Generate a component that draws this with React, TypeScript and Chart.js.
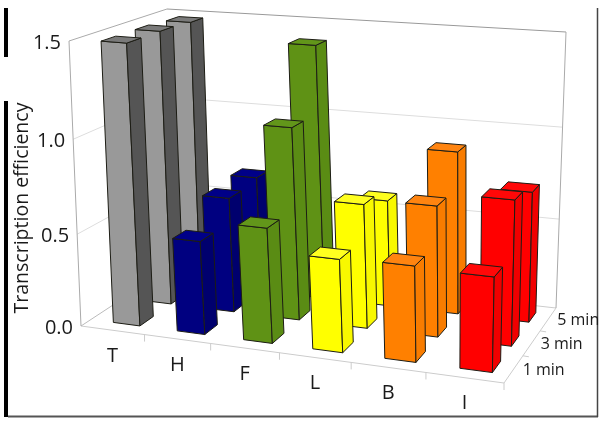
import React, { useEffect, useRef } from "react";
import { Chart, BarController, registerables } from "chart.js";

const categories = ["T", "H", "F", "L", "B", "I"];
const depthLabels = ["1 min", "3 min", "5 min"];
const valueAxisTitle = "Transcription efficiency";
const oneMin = [1.49, 0.5, 0.61, 0.49, 0.5, 0.49];
const threeMin = [1.49, 0.63, 1.04, 0.67, 0.7, 0.77];
const fiveMin = [1.48, 0.65, 1.4, 0.59, 0.89, 0.71];
const frontColors = ["#999999", "#000080", "#5f9215", "#ffff00", "#ff8000", "#ff0000"];
const sideColors = ["#555555", "#00006e", "#5a8c14", "#f8f800", "#f87c00", "#f00000"];
const topColors = ["#7a7a7a", "#000088", "#62961a", "#ffff20", "#ff8410", "#ff0808"];

type P = [number, number];
// Perspective frame of the 3D box: floor and top planes, corners
// in the order front-left, front-right, back-right, back-left.
const floorQuad: P[] = [[81, 326], [504, 383], [556, 308], [174, 265]];
const topQuad: P[] = [[69, 41], [512, 76], [566, 32], [167, 9]];

function squareToQuad(q: P[]) {
  const [[x0, y0], [x1, y1], [x2, y2], [x3, y3]] = q;
  const dx1 = x1 - x2, dx2 = x3 - x2, dx3 = x0 - x1 + x2 - x3;
  const dy1 = y1 - y2, dy2 = y3 - y2, dy3 = y0 - y1 + y2 - y3;
  const den = dx1 * dy2 - dx2 * dy1;
  const g = (dx3 * dy2 - dx2 * dy3) / den;
  const h = (dx1 * dy3 - dx3 * dy1) / den;
  const a = x1 - x0 + g * x1, b = x3 - x0 + h * x3;
  const d = y1 - y0 + g * y1, e = y3 - y0 + h * y3;
  return (s: number, t: number): P => {
    const w = g * s + h * t + 1;
    return [(a * s + b * t + x0) / w, (d * s + e * t + y0) / w];
  };
}
const floorMap = squareToQuad(floorQuad);
const topMap = squareToQuad(topQuad);

// u in category units, v in depth units, f = fraction of the value axis
function project(u: number, v: number, f: number): P {
  const s = u / categories.length, t = v / depthLabels.length;
  const a = floorMap(s, t), b = topMap(s, t);
  const k = 0.95;
  const m = (f * k) / (1 + f * (k - 1));
  return [a[0] + (b[0] - a[0]) * m, a[1] + (b[1] - a[1]) * m];
}

const BAR_U = 0.21, BAR_V = 0.21, SHIFT_U = 0.07, SHIFT_V = 0.0;

const frac = (ys: any, value: number) => (ys.bottom - ys.getPixelForValue(value)) / (ys.bottom - ys.top);

function poly(ctx: CanvasRenderingContext2D, pts: P[], fill: string) {
  ctx.beginPath();
  pts.forEach((p, i) => (i ? ctx.lineTo(p[0], p[1]) : ctx.moveTo(p[0], p[1])));
  ctx.closePath();
  ctx.fillStyle = fill;
  ctx.fill();
  ctx.stroke();
}

class Bar3DController extends BarController {
  static id = "bar3d";
  static defaults = BarController.defaults;
  static overrides = BarController.overrides;
  draw() {
    const chart = this.chart as any;
    const ctx: CanvasRenderingContext2D = chart.ctx;
    const xs = chart.scales.x, ys = chart.scales.y;
    const n = this.getMeta().data.length;
    const v0 = this.index + 0.5 + SHIFT_V;
    ctx.save();
    ctx.lineWidth = 1;
    ctx.lineJoin = "round";
    ctx.strokeStyle = "#1c1c14";
    for (let i = 0; i < n; i++) {
      const parsed: any = this.getParsed(i);
      const u0 = ((xs.getPixelForValue(i) - xs.left) / xs.width) * categories.length + SHIFT_U;
      const f = frac(ys, parsed.y);
      const uL = u0 - BAR_U, uR = u0 + BAR_U, vF = v0 - BAR_V, vB = v0 + BAR_V;
      poly(ctx, [project(uL, vF, 0), project(uR, vF, 0), project(uR, vF, f), project(uL, vF, f)], frontColors[i]);
      poly(ctx, [project(uR, vF, 0), project(uR, vB, 0), project(uR, vB, f), project(uR, vF, f)], sideColors[i]);
      poly(ctx, [project(uL, vF, f), project(uR, vF, f), project(uR, vB, f), project(uL, vB, f)], topColors[i]);
    }
    ctx.restore();
  }
}

function seg(ctx: CanvasRenderingContext2D, a: P, b: P, color: string, w = 1) {
  ctx.beginPath();
  ctx.moveTo(a[0], a[1]);
  ctx.lineTo(b[0], b[1]);
  ctx.strokeStyle = color;
  ctx.lineWidth = w;
  ctx.stroke();
}

const FONT = '"Open Sans", sans-serif';

const framePlugin = {
  id: "frame3d",
  beforeDatasetsDraw(chart: any) {
    const ctx: CanvasRenderingContext2D = chart.ctx;
    const ys = chart.scales.y;
    const nU = categories.length, nV = depthLabels.length;
    ctx.save();
    // page frame
    ctx.fillStyle = "#000";
    ctx.fillRect(4, 8, 4, 49);
    ctx.fillRect(4, 101, 4, 316);
    seg(ctx, [8, 416.5], [598, 416.5], "#555", 2);
    seg(ctx, [597.5, 8], [597.5, 417], "#444", 1.5);
    // grid on the walls
    for (const t of ys.ticks) {
      const f = frac(ys, t.value);
      if (f > 0 && f < 1) {
        seg(ctx, project(0, 0, f), project(0, nV, f), "#dddddd");
        seg(ctx, project(0, nV, f), project(nU, nV, f), "#dddddd");
      }
    }
    // floor
    seg(ctx, project(0, 0, 0), project(nU, 0, 0), "#cccccc");
    seg(ctx, project(nU, 0, 0), project(nU, nV, 0), "#cccccc");
    seg(ctx, project(0, 0, 0), project(0, nV, 0), "#bbbbbb");
    seg(ctx, project(0, nV, 0), project(nU, nV, 0), "#cccccc");
    for (let i = 1; i <= nU; i++) {
      const p = project(i, 0, 0);
      seg(ctx, p, [p[0], p[1] + 7], "#cccccc");
    }
    for (let i = 1; i < nV; i++) {
      const p = project(nU, i, 0);
      seg(ctx, p, [p[0] + 6, p[1] + 1], "#cccccc");
    }
    // outline
    seg(ctx, project(0, 0, 0), project(0, 0, 1), "#aaaaaa");
    seg(ctx, project(0, 0, 1), project(0, nV, 1), "#aaaaaa");
    seg(ctx, project(0, nV, 1), project(nU, nV, 1), "#999999");
    seg(ctx, project(nU, nV, 0), project(nU, nV, 1), "#aaaaaa");
    // text
    ctx.fillStyle = "#1a1a1a";
    ctx.textBaseline = "middle";
    ctx.font = `20px ${FONT}`;
    ctx.textAlign = "right";
    for (const t of ys.ticks) {
      const p = project(0, 0, frac(ys, t.value));
      ctx.fillText(t.label, p[0] - 8, p[1] + 2);
    }
    ctx.font = `20px ${FONT}`;
    ctx.textAlign = "center";
    categories.forEach((c, i) => {
      const p = project(i + 0.5, 0, 0);
      ctx.fillText(c, p[0], p[1] + 26);
    });
    ctx.font = `16px ${FONT}`;
    depthLabels.forEach((c, i) => {
      const p = project(nU, i + 0.5, 0);
      ctx.fillText(c, p[0] + 30, p[1] + 1);
    });
    ctx.font = `19.5px ${FONT}`;
    ctx.translate(22, 208);
    ctx.rotate(-Math.PI / 2);
    ctx.fillText(valueAxisTitle, 0, 0);
    ctx.restore();
  },
};

Chart.register(...registerables, Bar3DController);

export default function App() {
  const ref = useRef<HTMLCanvasElement>(null);
  useEffect(() => {
    const chart = new Chart(ref.current!, {
      type: "bar3d" as any,
      data: {
        labels: categories,
        datasets: [
          { label: depthLabels[0], data: oneMin },
          { label: depthLabels[1], data: threeMin },
          { label: depthLabels[2], data: fiveMin },
        ],
      },
      options: {
        responsive: false,
        animation: false,
        devicePixelRatio: 1,
        layout: { padding: 0 },
        plugins: { legend: { display: false }, tooltip: { enabled: false } },
        scales: {
          x: { type: "category", display: false, offset: true },
          y: {
            type: "linear",
            display: false,
            min: 0,
            max: 1.5,
            ticks: { stepSize: 0.5, callback: (v: any) => Number(v).toFixed(1) },
          },
        },
      } as any,
      plugins: [framePlugin],
    });
    return () => chart.destroy();
  }, []);
  return (
    <div style={{ position: "fixed", left: 0, top: 0, width: 601, height: 421, background: "#fff" }}>
      <canvas ref={ref} width={601} height={421} style={{ display: "block" }} />
    </div>
  );
}
